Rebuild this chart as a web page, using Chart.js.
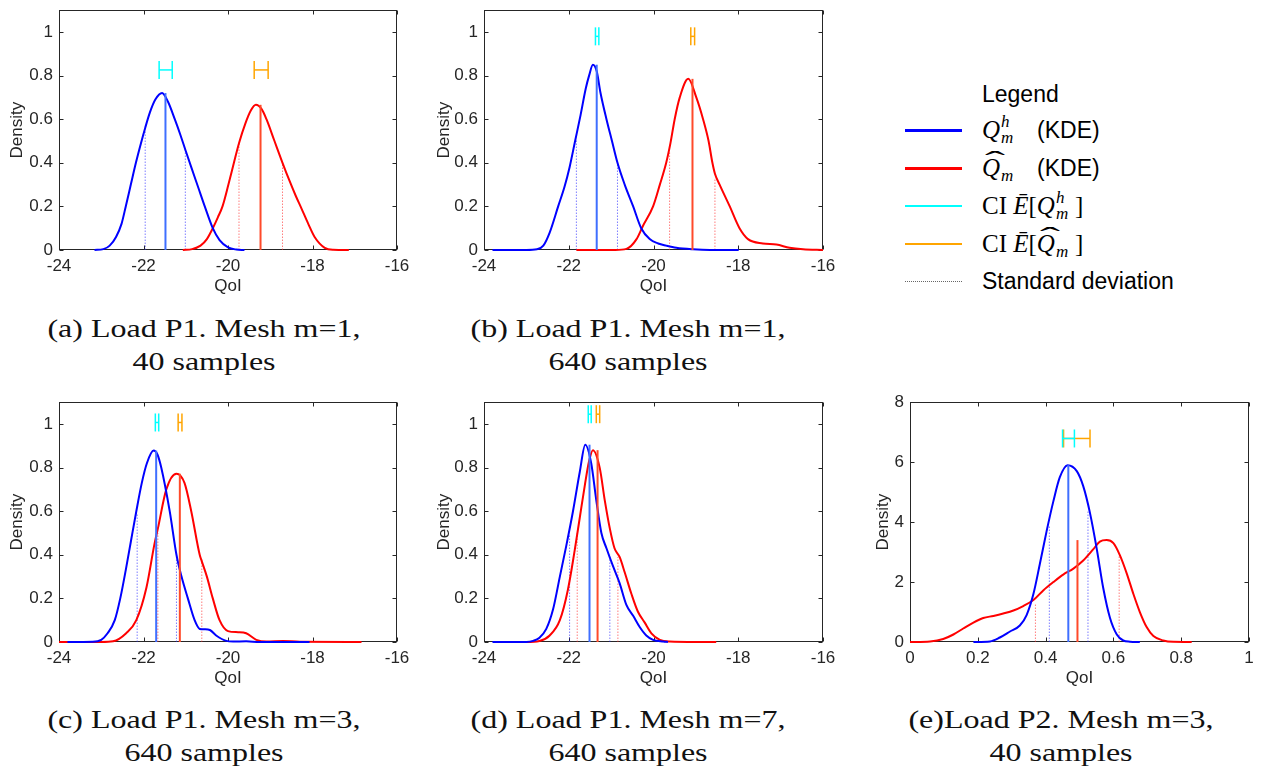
<!DOCTYPE html>
<html lang="en">
<head>
  <meta charset="UTF-8">
  <title>KDE densities</title>
  <script src="https://cdn.jsdelivr.net/npm/chart.js"></script>
  <style>
    body {
      margin: 0;
      width: 1262px;
      height: 773px;
      position: relative;
      overflow: hidden;
      background: #fff;
      font-family: "Liberation Sans", Arial, sans-serif;
    }
    .wrap { position: absolute; }
    .cap {
      position: absolute;
      width: 400px;
      text-align: center;
      font-family: "Liberation Serif", serif;
      font-size: 25px;
      line-height: 33px;
      color: #111;
      transform: scaleX(1.28);
      white-space: nowrap;
    }
    .sw { position: absolute; left: 905px; width: 57px; }
    .lg {
      position: absolute;
      left: 982px;
      height: 30px;
      line-height: 30px;
      font-size: 23px;
      color: #000;
      white-space: nowrap;
    }
    .mth { font-family: "Liberation Serif", serif; font-size: 25px; }
    .it { font-style: italic; }
    .ss { display: inline-block; position: relative; width: 20px; height: 30px; vertical-align: top; }
    .ss .up, .ss .dn { position: absolute; left: 1px; font-family: "Liberation Serif", serif; font-style: italic; font-size: 17px; line-height: 17px; }
    .ss .up { top: -2px; }
    .ss .dn { top: 14px; }
    .hat { position: relative; display: inline-block; }
    .hat .hm { position: absolute; left: 3px; top: -5px; line-height: 25px; font-style: normal; transform: scaleX(2.4); transform-origin: left; }
  </style>
</head>
<body>
  <div class="wrap" id="wa"><canvas id="ca"></canvas></div>
  <div class="wrap" id="wb"><canvas id="cb"></canvas></div>
  <div class="wrap" id="wc"><canvas id="cc"></canvas></div>
  <div class="wrap" id="wd"><canvas id="cd"></canvas></div>
  <div class="wrap" id="we"><canvas id="ce"></canvas></div>

  <div class="cap" style="left:4px; top:312px;">(a) Load P1. Mesh m=1,<br>40 samples</div>
  <div class="cap" style="left:428px; top:312px;">(b) Load P1. Mesh m=1,<br>640 samples</div>
  <div class="cap" style="left:4px; top:703px;">(c) Load P1. Mesh m=3,<br>640 samples</div>
  <div class="cap" style="left:428px; top:703px;">(d) Load P1. Mesh m=7,<br>640 samples</div>
  <div class="cap" style="left:861px; top:703px;">(e)Load P2. Mesh m=3,<br>40 samples</div>

  <div class="lg" style="top:79px;">Legend</div>
  <div class="sw" style="top:129px; border-top:3px solid #0000ff;"></div>
  <div class="lg" style="top:115px;"><span class="mth it">Q</span><span class="ss"><span class="up">h</span><span class="dn">m</span></span><span style="margin-left:17px;">(KDE)</span></div>
  <div class="sw" style="top:167px; border-top:3px solid #ff0000;"></div>
  <div class="lg" style="top:153px;"><span class="mth it hat">Q<span class="hm">ˆ</span></span><span class="ss"><span class="dn">m</span></span><span style="margin-left:17px;">(KDE)</span></div>
  <div class="sw" style="top:205px; border-top:2px solid #00ffff;"></div>
  <div class="lg" style="top:191px;"><span class="mth">CI <span class="it">Ē</span>[<span class="it">Q</span></span><span class="ss"><span class="up">h</span><span class="dn">m</span></span><span class="mth">]</span></div>
  <div class="sw" style="top:243px; border-top:2px solid #ffa500;"></div>
  <div class="lg" style="top:229px;"><span class="mth">CI <span class="it">Ē</span>[<span class="it hat">Q<span class="hm">ˆ</span></span></span><span class="ss"><span class="dn">m</span></span><span class="mth">]</span></div>
  <div class="sw" style="top:281px; border-top:1px dotted #666;"></div>
  <div class="lg" style="top:266px;">Standard deviation</div>

  <script>
    // ticks
    const xTicksP1 = [-24, -22, -20, -18, -16];
    const yTicksP1 = [0, 0.2, 0.4, 0.6, 0.8, 1];
    const xTicksP2 = [0, 0.2, 0.4, 0.6, 0.8, 1];
    const yTicksP2 = [0, 2, 4, 6, 8];

    // (a) Load P1, m=1, 40 samples
    const aBlueX = [-23.16, -22.95, -22.8, -22.65, -22.52, -22.42, -22.3, -22.18, -22.06, -21.96, -21.85, -21.72, -21.56, -21.42, -21.26, -21.13, -21.01, -20.87, -20.71, -20.55, -20.36, -20.2, -20.0, -19.8, -19.61];
    const aBlueY = [0, 0.004, 0.02, 0.06, 0.12, 0.2, 0.3, 0.4, 0.49, 0.56, 0.63, 0.69, 0.72, 0.68, 0.6, 0.53, 0.46, 0.38, 0.29, 0.2, 0.1, 0.045, 0.012, 0.002, 0];
    const aRedX = [-21.07, -20.85, -20.65, -20.5, -20.36, -20.24, -20.13, -19.99, -19.86, -19.74, -19.59, -19.46, -19.34, -19.2, -19.09, -18.9, -18.71, -18.55, -18.4, -18.26, -18.1, -17.95, -17.71, -17.51, -17.14];
    const aRedY = [0, 0.004, 0.02, 0.05, 0.1, 0.15, 0.2, 0.3, 0.4, 0.49, 0.58, 0.64, 0.666, 0.645, 0.6, 0.5, 0.4, 0.32, 0.25, 0.19, 0.12, 0.06, 0.01, 0.001, 0];
    const aMeans = [-21.48, -19.23];
    const aPeaks = [0.72, 0.666];
    const aStdBlue = [-21.96, -21.01], aStdBlueTop = [0.55, 0.46];
    const aStdRed = [-19.74, -18.71], aStdRedTop = [0.49, 0.40];
    const aCiBlue = [-21.63, -21.32], aCiRed = [-19.38, -19.05], aCiLevel = 0.826;

    // (b) Load P1, m=1, 640 samples
    const bBlueX = [-23.8, -23.0, -22.75, -22.6, -22.45, -22.25, -22.1, -21.98, -21.85, -21.72, -21.6, -21.52, -21.43, -21.34, -21.25, -21.11, -20.98, -20.85, -20.68, -20.48, -20.29, -20.09, -19.89, -19.7, -19.46, -19.07, -18.67, -17.99];
    const bBlueY = [0, 0, 0.003, 0.02, 0.08, 0.2, 0.29, 0.38, 0.5, 0.62, 0.74, 0.8, 0.85, 0.82, 0.72, 0.6, 0.5, 0.4, 0.3, 0.2, 0.1, 0.05, 0.03, 0.02, 0.01, 0.003, 0, 0];
    const bRedX = [-21.82, -20.9, -20.64, -20.4, -20.25, -20.01, -19.85, -19.7, -19.6, -19.5, -19.38, -19.18, -18.99, -18.83, -18.7, -18.61, -18.55, -18.44, -18.2, -17.97, -17.77, -17.42, -17.1, -16.79, -16.47, -16.0];
    const bRedY = [0, 0, 0.005, 0.05, 0.11, 0.2, 0.3, 0.4, 0.49, 0.6, 0.7, 0.785, 0.7, 0.6, 0.5, 0.4, 0.35, 0.3, 0.2, 0.1, 0.05, 0.03, 0.025, 0.01, 0.003, 0];
    const bMeans = [-21.34, -19.08];
    const bPeaks = [0.85, 0.785];
    const bStdBlue = [-21.82, -20.85], bStdBlueTop = [0.505, 0.40];
    const bStdRed = [-19.62, -18.55], bStdRedTop = [0.45, 0.33];
    const bCiBlue = [-21.37, -21.29], bCiRed = [-19.12, -19.03], bCiLevel = 0.98;

    // (c) Load P1, m=3, 640 samples
    const cBlueX = [-23.8, -23.2, -23.0, -22.85, -22.68, -22.55, -22.42, -22.3, -22.17, -22.04, -21.92, -21.76, -21.67, -21.58, -21.38, -21.22, -21.1, -20.95, -20.79, -20.67, -20.55, -20.43, -20.28, -20.04, -19.88, -19.57, -19.25, -18.07];
    const cBlueY = [0, 0.001, 0.01, 0.04, 0.1, 0.2, 0.33, 0.46, 0.6, 0.73, 0.82, 0.878, 0.86, 0.8, 0.6, 0.4, 0.3, 0.2, 0.1, 0.06, 0.058, 0.055, 0.03, 0.005, 0.002, 0.003, 0, 0];
    const cRedX = [-24, -23.0, -22.72, -22.41, -22.17, -21.93, -21.74, -21.66, -21.46, -21.22, -21.03, -20.87, -20.67, -20.62, -20.5, -20.36, -20.2, -20.0, -19.76, -19.57, -19.33, -19.09, -18.7, -18.3, -16.84];
    const cRedY = [0, 0, 0.003, 0.04, 0.1, 0.25, 0.45, 0.52, 0.7, 0.772, 0.73, 0.6, 0.4, 0.37, 0.3, 0.2, 0.1, 0.05, 0.045, 0.04, 0.01, 0.002, 0.005, 0.001, 0];
    const cMeans = [-21.70, -21.14];
    const cPeaks = [0.878, 0.772];
    const cStdBlue = [-22.15, -21.22], cStdBlueTop = [0.59, 0.40];
    const cStdRed = [-21.66, -20.62], cStdRedTop = [0.50, 0.38];
    const cCiBlue = [-21.72, -21.64], cCiRed = [-21.18, -21.09], cCiLevel = 1.007;

    // (d) Load P1, m=7, 640 samples
    const dBlueX = [-23.8, -23.0, -22.84, -22.69, -22.53, -22.37, -22.21, -22.06, -21.9, -21.74, -21.61, -21.47, -21.35, -21.23, -21.11, -20.96, -20.8, -20.64, -20.48, -20.33, -20.17, -20.01, -19.77, -19.66];
    const dBlueY = [0, 0, 0.005, 0.02, 0.06, 0.15, 0.3, 0.44, 0.6, 0.78, 0.905, 0.82, 0.65, 0.5, 0.43, 0.35, 0.27, 0.17, 0.12, 0.07, 0.03, 0.01, 0.002, 0];
    const dRedX = [-23.71, -23.0, -22.69, -22.45, -22.21, -22.02, -21.86, -21.74, -21.62, -21.52, -21.43, -21.27, -21.15, -21.03, -20.92, -20.8, -20.68, -20.52, -20.37, -20.21, -20.05, -19.85, -19.62, -19.0, -18.52];
    const dRedY = [0, 0, 0.005, 0.03, 0.1, 0.24, 0.42, 0.57, 0.72, 0.83, 0.88, 0.8, 0.65, 0.52, 0.43, 0.39, 0.32, 0.22, 0.14, 0.09, 0.04, 0.01, 0.002, 0, 0];
    const dMeans = [-21.51, -21.32];
    const dPeaks = [0.905, 0.88];
    const dStdBlue = [-21.98, -21.03], dStdBlueTop = [0.49, 0.40];
    const dStdRed = [-21.80, -20.84], dStdRedTop = [0.50, 0.39];
    const dCiBlue = [-21.54, -21.47], dCiRed = [-21.35, -21.27], dCiLevel = 1.045;

    // (e) Load P2, m=3, 40 samples
    const eBlueX = [0.187, 0.236, 0.265, 0.295, 0.324, 0.344, 0.364, 0.383, 0.403, 0.423, 0.442, 0.465, 0.492, 0.511, 0.531, 0.551, 0.57, 0.59, 0.61, 0.629, 0.649, 0.678];
    const eBlueY = [0, 0.02, 0.15, 0.35, 0.55, 0.9, 1.6, 2.6, 3.7, 4.7, 5.5, 5.9, 5.7, 5.2, 4.3, 3.1, 1.8, 0.8, 0.25, 0.05, 0.01, 0];
    const eRedX = [0, 0.059, 0.098, 0.128, 0.157, 0.187, 0.216, 0.246, 0.275, 0.305, 0.334, 0.364, 0.393, 0.423, 0.452, 0.482, 0.511, 0.541, 0.56, 0.58, 0.6, 0.619, 0.639, 0.659, 0.678, 0.698, 0.718, 0.747, 0.777, 0.831];
    const eRedY = [0, 0.02, 0.1, 0.25, 0.45, 0.65, 0.8, 0.87, 0.95, 1.05, 1.2, 1.4, 1.72, 2.0, 2.25, 2.45, 2.72, 3.1, 3.35, 3.4, 3.3, 2.9, 2.3, 1.6, 1.0, 0.5, 0.2, 0.05, 0.005, 0];
    const eMeans = [0.467, 0.494];
    const ePeaks = [5.9, 3.4];
    const eStdBlue = [0.411, 0.525], eStdBlueTop = [3.86, 4.4];
    const eStdRed = [0.370, 0.617], eStdRedTop = [1.27, 2.9];
    const eCiBlue = [0.450, 0.485], eCiRed = [0.453, 0.531], eCiLevel = 6.79;

    const AX = '#262626';

    function curve(xs, ys, color) {
      return {
        data: xs.map((x, i) => ({x: x, y: ys[i]})),
        borderColor: color, borderWidth: 2, pointRadius: 0,
        showLine: true, cubicInterpolationMode: 'monotone', clip: false
      };
    }
    function vline(x, top, color, width, dash) {
      return {
        data: [{x: x, y: 0}, {x: x, y: top}],
        borderColor: color, borderWidth: width, borderDash: dash || [],
        pointRadius: 0, showLine: true, clip: false
      };
    }
    function ciBar(ci, level, color) {
      return {
        data: [{x: ci[0], y: level}, {x: ci[1], y: level}],
        borderColor: color, borderWidth: 1.5, showLine: true, clip: false,
        pointStyle: 'line', rotation: 90, pointRadius: 9,
        pointBorderColor: color, pointBorderWidth: 1.5
      };
    }

    const boxPlugin = {
      id: 'box',
      beforeDatasetsDraw(chart) {
        const {ctx, chartArea: a, scales: {x, y}} = chart;
        const l = Math.round(a.left) + 0.5, r = Math.round(a.right) - 0.5;
        const t = Math.round(a.top) + 0.5, b = Math.round(a.bottom) - 0.5;
        ctx.save();
        ctx.strokeStyle = AX;
        ctx.lineWidth = 1;
        ctx.strokeRect(l, t, r - l, b - t);
        ctx.beginPath();
        x.ticks.forEach(tk => {
          const px = Math.round(x.getPixelForValue(tk.value)) + 0.5;
          ctx.moveTo(px, b); ctx.lineTo(px, b - 4);
          ctx.moveTo(px, t); ctx.lineTo(px, t + 4);
        });
        y.ticks.forEach(tk => {
          const py = Math.round(y.getPixelForValue(tk.value)) + 0.5;
          ctx.moveTo(l, py); ctx.lineTo(l + 4, py);
          ctx.moveTo(r, py); ctx.lineTo(r - 4, py);
        });
        ctx.stroke();
        ctx.restore();
      }
    };

    function panel(id, rect, xr, yr, xt, yt, yTitlePad, d) {
      const wrap = document.getElementById('w' + id);
      const cv = document.getElementById('c' + id);
      wrap.style.left = (rect.left - 60) + 'px';
      wrap.style.top = (rect.top - 10) + 'px';
      cv.width = rect.width + 80;
      cv.height = rect.height + 62;

      const datasets = [
        vline(d.means[0], d.peaks[0], '#3f6fff', 2),
        vline(d.means[1], d.peaks[1], '#ff4a2a', 2),
        curve(d.blueX, d.blueY, '#0000ff'),
        curve(d.redX, d.redY, '#ff0000'),
        vline(d.stdBlue[0], d.stdBlueTop[0], 'rgba(40,40,255,0.6)', 1, [1.5, 1.5]),
        vline(d.stdBlue[1], d.stdBlueTop[1], 'rgba(40,40,255,0.6)', 1, [1.5, 1.5]),
        vline(d.stdRed[0], d.stdRedTop[0], 'rgba(255,40,40,0.6)', 1, [1.5, 1.5]),
        vline(d.stdRed[1], d.stdRedTop[1], 'rgba(255,40,40,0.6)', 1, [1.5, 1.5]),
        ciBar(d.ciBlue, d.ciLevel, '#00ffff'),
        ciBar(d.ciRed, d.ciLevel, '#ffa500')
      ];

      return new Chart(cv, {
        type: 'scatter',
        data: {datasets: datasets},
        options: {
          responsive: false,
          animation: false,
          events: [],
          layout: {padding: {left: 0, top: 10, right: 20, bottom: 0}},
          plugins: {legend: {display: false}, tooltip: {enabled: false}},
          scales: {
            x: {
              type: 'linear', min: xr[0], max: xr[1],
              afterBuildTicks: s => { s.ticks = xt.map(v => ({value: v})); },
              afterFit: s => { s.height = 52; },
              grid: {display: false, drawTicks: false},
              border: {display: false},
              ticks: {padding: 6, color: AX, font: {size: 17}, maxRotation: 0, autoSkip: false, callback: v => String(v)},
              title: {display: true, text: 'QoI', color: AX, font: {size: 17}, padding: {top: 0, bottom: 5}}
            },
            y: {
              type: 'linear', min: yr[0], max: yr[1],
              afterBuildTicks: s => { s.ticks = yt.map(v => ({value: v})); },
              afterFit: s => { s.width = 60; },
              grid: {display: false, drawTicks: false},
              border: {display: false},
              ticks: {padding: 6, color: AX, font: {size: 17}, autoSkip: false, callback: v => String(v)},
              title: {display: true, text: 'Density', color: AX, font: {size: 17}, padding: {top: yTitlePad, bottom: 0}}
            }
          }
        },
        plugins: [boxPlugin]
      });
    }

    panel('a', {left: 59, top: 4, width: 338, height: 246}, [-24, -16], [0, 1.1], xTicksP1, yTicksP1, 7.8, {
      blueX: aBlueX, blueY: aBlueY, redX: aRedX, redY: aRedY, means: aMeans, peaks: aPeaks,
      stdBlue: aStdBlue, stdBlueTop: aStdBlueTop, stdRed: aStdRed, stdRedTop: aStdRedTop,
      ciBlue: aCiBlue, ciRed: aCiRed, ciLevel: aCiLevel
    });
    panel('b', {left: 484, top: 4, width: 339, height: 246}, [-24, -16], [0, 1.1], xTicksP1, yTicksP1, 10.5, {
      blueX: bBlueX, blueY: bBlueY, redX: bRedX, redY: bRedY, means: bMeans, peaks: bPeaks,
      stdBlue: bStdBlue, stdBlueTop: bStdBlueTop, stdRed: bStdRed, stdRedTop: bStdRedTop,
      ciBlue: bCiBlue, ciRed: bCiRed, ciLevel: bCiLevel
    });
    panel('c', {left: 59, top: 396, width: 338, height: 246}, [-24, -16], [0, 1.1], xTicksP1, yTicksP1, 7.8, {
      blueX: cBlueX, blueY: cBlueY, redX: cRedX, redY: cRedY, means: cMeans, peaks: cPeaks,
      stdBlue: cStdBlue, stdBlueTop: cStdBlueTop, stdRed: cStdRed, stdRedTop: cStdRedTop,
      ciBlue: cCiBlue, ciRed: cCiRed, ciLevel: cCiLevel
    });
    panel('d', {left: 484, top: 396, width: 339, height: 246}, [-24, -16], [0, 1.1], xTicksP1, yTicksP1, 10.5, {
      blueX: dBlueX, blueY: dBlueY, redX: dRedX, redY: dRedY, means: dMeans, peaks: dPeaks,
      stdBlue: dStdBlue, stdBlueTop: dStdBlueTop, stdRed: dStdRed, stdRedTop: dStdRedTop,
      ciBlue: dCiBlue, ciRed: dCiRed, ciLevel: dCiLevel
    });
    panel('e', {left: 910, top: 396, width: 339, height: 246}, [0, 1], [0, 8], xTicksP2, yTicksP2, 23.1, {
      blueX: eBlueX, blueY: eBlueY, redX: eRedX, redY: eRedY, means: eMeans, peaks: ePeaks,
      stdBlue: eStdBlue, stdBlueTop: eStdBlueTop, stdRed: eStdRed, stdRedTop: eStdRedTop,
      ciBlue: eCiBlue, ciRed: eCiRed, ciLevel: eCiLevel
    });
  </script>
</body>
</html>
